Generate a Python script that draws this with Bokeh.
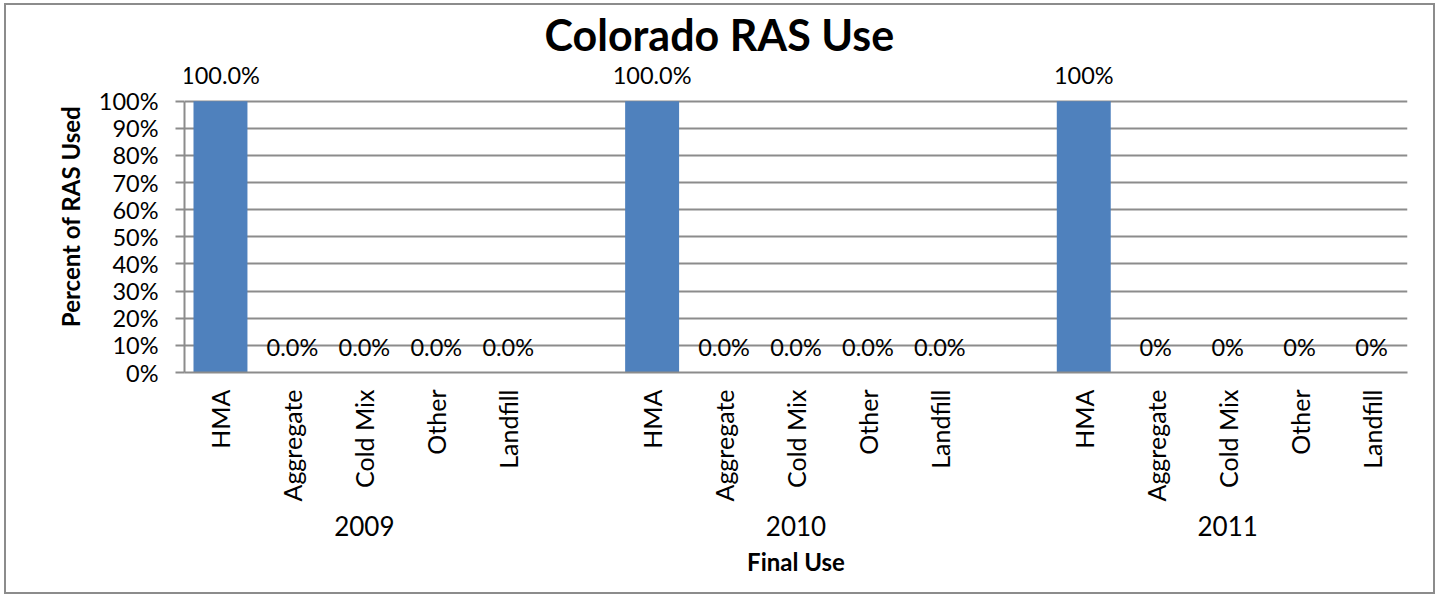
import math
from bokeh.plotting import figure
from bokeh.models import FactorRange, Range1d, FixedTicker, ColumnDataSource, PrintfTickFormatter
from bokeh.core.properties import value
from bokeh.embed import file_html
from bokeh.resources import INLINE

years = ["2009", "2010", "2011"]
categories = ["HMA", "Aggregate", "Cold Mix", "Other", "Landfill"]
values_2009 = [100.0, 0.0, 0.0, 0.0, 0.0]
values_2010 = [100.0, 0.0, 0.0, 0.0, 0.0]
values_2011 = [100.0, 0.0, 0.0, 0.0, 0.0]
label_formats = {"2009": "{:.1f}%", "2010": "{:.1f}%", "2011": "{:.0f}%"}
y_ticks = [0, 10, 20, 30, 40, 50, 60, 70, 80, 90, 100]

series = {"2009": values_2009, "2010": values_2010, "2011": values_2011}
xs, tops, labels = [], [], []
for yr in years:
    for cat, v in zip(categories, series[yr]):
        xs.append((yr, cat))
        tops.append(v)
        labels.append(label_formats[yr].format(v))
src = ColumnDataSource(dict(x=xs, top=tops, label=labels))

FONT = "Lato"
GRAY = "#8c8c8c"

p = figure(
    x_range=FactorRange(*xs, factor_padding=0.0, group_padding=1.0, range_padding=0.0),
    y_range=Range1d(0, 115),
    width=1431, height=591,
    min_border_left=178, min_border_right=30, min_border_top=54, min_border_bottom=224,
    output_backend="svg", toolbar_location=None,
    title="Colorado RAS Use",
)
p.styles = {"border": "2px solid #8c8c8c", "margin-left": "4px", "margin-top": "3px"}
p.outline_line_color = None

p.title.text_font = FONT
p.title.text_font_size = "43px"
p.title.text_font_style = "bold"
p.title.align = "left"
p.title.offset = 360
p.title.text_color = "black"
p.title.standoff = 2

p.vbar(x="x", top="top", width=0.75, source=src, fill_color="#4F81BD", line_color=None)
p.text(x="x", y="top", text="label", source=src, text_align="center", text_baseline="middle",
       y_offset=-26, text_font=value(FONT), text_font_size="23.5px", text_color="black")

# y axis
ya = p.yaxis[0]
ya.ticker = FixedTicker(ticks=y_ticks)
ya.formatter = PrintfTickFormatter(format="%d%%")
ya.bounds = (0, 100)
ya.axis_line_color = GRAY
ya.axis_line_width = 2
ya.major_tick_line_color = GRAY
ya.major_tick_line_width = 2
ya.major_tick_out = 9
ya.major_tick_in = 0
ya.minor_tick_line_color = None
ya.major_label_text_font = FONT
ya.major_label_text_font_size = "23.5px"
ya.major_label_text_color = "black"
ya.major_label_standoff = 17
ya.axis_label = "Percent of RAS Used"
ya.axis_label_text_font = FONT
ya.axis_label_text_font_size = "24px"
ya.axis_label_text_font_style = "bold"
ya.axis_label_text_color = "black"
ya.axis_label_standoff = 11

p.ygrid.ticker = FixedTicker(ticks=y_ticks)
p.ygrid.grid_line_color = GRAY
p.ygrid.grid_line_width = 2
p.xgrid.grid_line_color = None

# x axis
xa = p.xaxis[0]
xa.axis_line_color = GRAY
xa.axis_line_width = 2
xa.major_tick_line_color = None
xa.minor_tick_line_color = None
xa.separator_line_color = None
xa.major_label_orientation = math.pi / 2
xa.major_label_text_font = FONT
xa.major_label_text_font_size = "25px"
xa.major_label_text_color = "black"
xa.major_label_standoff = 11
xa.group_label_orientation = "horizontal"
xa.group_text_font = FONT
xa.group_text_font_size = "26px"
xa.group_text_font_style = "normal"
xa.group_text_color = "black"
xa.axis_label = "Final Use"
xa.axis_label_text_font = FONT
xa.axis_label_text_font_size = "24px"
xa.axis_label_text_font_style = "bold"
xa.axis_label_text_color = "black"
xa.axis_label_standoff = 8

open("out.html", "w").write(file_html(p, INLINE))
